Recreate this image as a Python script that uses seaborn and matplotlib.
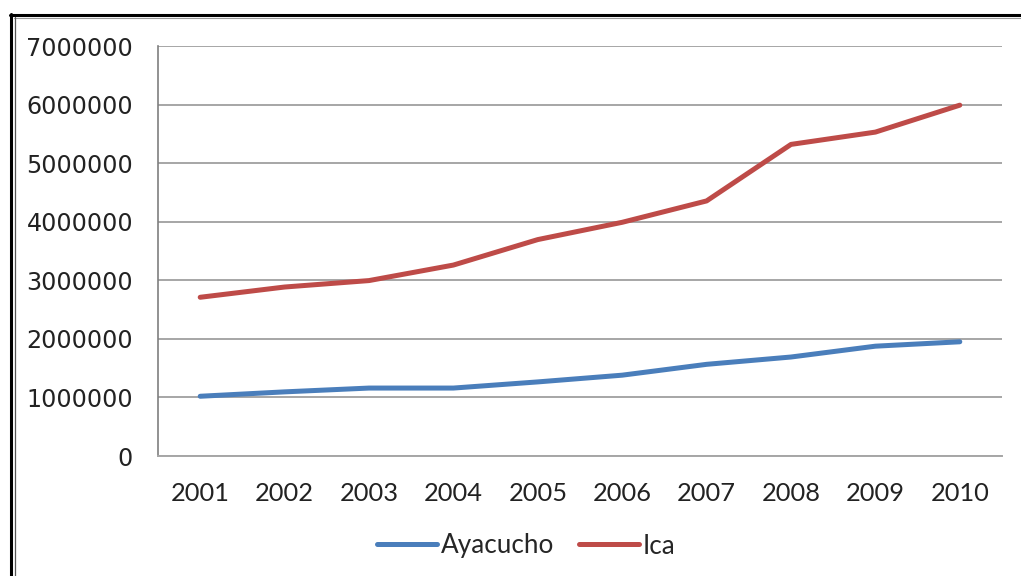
import matplotlib
matplotlib.use("Agg")
import matplotlib.pyplot as plt
from matplotlib.lines import Line2D
from matplotlib.ticker import FuncFormatter, MultipleLocator
import pandas as pd
import seaborn as sns

years = [2001, 2002, 2003, 2004, 2005, 2006, 2007, 2008, 2009, 2010]
ayacucho = [1020000, 1095000, 1160000, 1160000, 1265000, 1380000, 1565000, 1690000, 1875000, 1950000]
ica = [2710000, 2885000, 2995000, 3260000, 3695000, 3990000, 4355000, 5320000, 5530000, 5990000]
series_names = ["Ayacucho", "Ica"]
series_colors = ["#4a7ebb", "#be4b48"]

df = pd.DataFrame({
    "year": years * 2,
    "value": ayacucho + ica,
    "region": [series_names[0]] * len(years) + [series_names[1]] * len(years),
})

sns.set_style("white")
plt.rcParams["font.family"] = ["DejaVu Sans"]

fig = plt.figure(figsize=(10.21, 5.76), dpi=100)
ax = fig.add_axes([158 / 1021, 120 / 576, 844 / 1021, 410 / 576])

sns.lineplot(data=df, x="year", y="value", hue="region", hue_order=series_names,
             palette=series_colors, linewidth=3.6, ax=ax, legend=False,
             solid_capstyle="round")

ax.set_xlim(years[0] - 0.5, years[-1] + 0.5)
ax.set_ylim(0, 7000000)
ax.set_xticks(years)
ax.set_xticklabels([str(y) for y in years], fontfamily="Lato", fontsize=18.3, color="#222222")
ax.yaxis.set_major_locator(MultipleLocator(1000000))
ax.yaxis.set_major_formatter(FuncFormatter(lambda v, p: f"{int(v)}"))
for lbl in ax.get_yticklabels():
    lbl.set_fontsize(17.2)
    lbl.set_color("#222222")
ax.tick_params(axis="both", length=0)
ax.tick_params(axis="y", pad=18)
ax.tick_params(axis="x", pad=18.5)
ax.set_xlabel("")
ax.set_ylabel("")

ax.grid(axis="y", color="#a6a6a6", linewidth=1.4)
ax.grid(axis="x", visible=False)
ax.set_axisbelow(True)
for side in ["top", "right"]:
    ax.spines[side].set_visible(False)
ax.spines["left"].set_color("#7f7f7f")
ax.spines["left"].set_linewidth(1.2)
ax.spines["bottom"].set_color("#a6a6a6")
ax.spines["bottom"].set_linewidth(1.4)

handles = [Line2D([], [], color=c, linewidth=3.6, solid_capstyle="round") for c in series_colors]
fig.legend(handles, series_names, loc="center", bbox_to_anchor=(526 / 1021, 1 - 546 / 576),
           ncol=2, frameon=False, handlelength=2.3, handletextpad=0.15, columnspacing=0.95,
           prop={"family": "Lato", "size": 18.8})

# outer frame: heavy top/left rule with a thin inner line
fig.add_artist(Line2D([10 / 1021, 1.0], [1 - 15 / 576, 1 - 15 / 576], color="black", linewidth=2.2))
fig.add_artist(Line2D([14 / 1021, 1.0], [1 - 17.5 / 576, 1 - 17.5 / 576], color="#9a9a9a", linewidth=0.8))
fig.add_artist(Line2D([11 / 1021, 11 / 1021], [0, 1 - 14 / 576], color="black", linewidth=2.2))
fig.add_artist(Line2D([14.5 / 1021, 14.5 / 1021], [0, 1 - 17 / 576], color="#555555", linewidth=0.9))

fig.savefig("out.png", dpi=100)
